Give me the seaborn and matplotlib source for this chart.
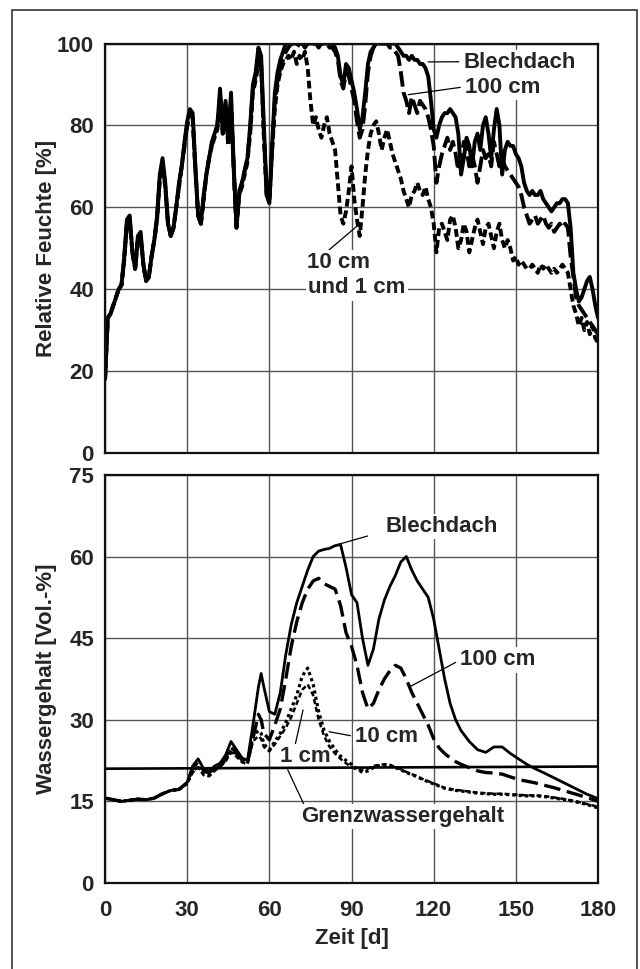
import numpy as np
import pandas as pd
import matplotlib.pyplot as plt
import seaborn as sns
from matplotlib.patches import Rectangle

# --- Relative Feuchte (oben), Tageswerte 0..180 d ---
days_top = np.arange(0, 181)

rh_blech = [18, 33, 34, 36, 38, 40, 41, 48, 57, 58,
            49, 45, 53, 54, 46, 42, 43, 48, 52, 58,
            68, 72, 66, 56, 53, 55, 60, 66, 70, 76,
            81, 84, 83, 70, 58, 56, 63, 68, 72, 76,
            78, 80, 89, 79, 86, 76, 88, 70, 55, 64,
            66, 69, 72, 80, 90, 93, 99, 97, 80, 64,
            61, 75, 88, 93, 96, 98, 100, 100, 100, 100,
            100, 100, 100, 100, 100, 100, 100, 100, 100, 100,
            100, 100, 100, 100, 99, 97, 92, 90, 95, 94,
            91, 88, 84, 79, 82, 88, 95, 98, 99, 100,
            100, 100, 100, 100, 100, 100, 100, 99, 98, 97,
            97, 96, 97, 96, 96, 95, 95, 94, 92, 86,
            79, 77, 80, 82, 83, 83, 84, 83, 82, 78,
            68, 72, 77, 75, 70, 76, 78, 74, 80, 82,
            78, 72, 79, 84, 80, 68, 74, 76, 75, 75,
            73, 72, 70, 66, 64, 63, 64, 63, 63, 64,
            62, 61, 60, 59, 60, 61, 61, 62, 62, 61,
            55, 44, 40, 37, 38, 40, 42, 43, 40, 36, 33]

rh_100 = [18, 33, 34, 36, 38, 40, 41, 47, 56, 57,
          49, 45, 52, 53, 46, 42, 43, 48, 52, 57,
          67, 71, 65, 56, 53, 55, 60, 65, 70, 75,
          80, 83, 82, 69, 58, 56, 62, 68, 72, 75,
          78, 80, 87, 78, 85, 76, 86, 69, 55, 63,
          66, 69, 72, 79, 89, 92, 97, 95, 78, 63,
          61, 74, 86, 91, 94, 96, 98, 99, 100, 100,
          99, 100, 100, 99, 100, 100, 100, 100, 99, 100,
          100, 100, 99, 99, 98, 96, 91, 89, 93, 92,
          89, 86, 81, 77, 79, 85, 93, 97, 99, 100,
          100, 100, 100, 100, 99, 99, 98, 97, 93, 88,
          86, 83, 87, 85, 83, 86, 85, 84, 82, 79,
          75, 66, 70, 73, 75, 77, 74, 76, 73, 69,
          72, 76, 74, 70, 73, 70, 66, 70, 74, 72,
          73, 70, 76, 73, 70, 72, 70, 69, 68, 67,
          66, 65, 63, 60, 58, 56, 57, 58, 56, 57,
          58, 56, 55, 56, 54, 55, 56, 55, 56, 55,
          48, 43, 38, 36, 35, 34, 33, 32, 31, 30, 29]

rh_10_1 = [18, 33, 34, 36, 38, 40, 41, 47, 56, 57,
           49, 45, 52, 53, 46, 42, 43, 48, 52, 57,
           67, 71, 65, 56, 53, 55, 60, 65, 70, 75,
           80, 83, 82, 69, 58, 56, 62, 68, 72, 75,
           77, 79, 86, 78, 84, 75, 85, 69, 55, 63,
           65, 68, 71, 78, 88, 91, 95, 94, 77, 63,
           62, 74, 84, 90, 93, 95, 96, 97, 96, 98,
           95, 97, 96, 98, 94, 86, 80, 82, 79, 77,
           80, 82, 78, 76, 74, 66, 58, 56, 59, 64,
           70, 62, 57, 53, 60, 68, 74, 78, 80, 81,
           78, 74, 77, 79, 76, 73, 71, 69, 67, 64,
           62, 60, 63, 64, 66, 64, 63, 65, 62, 60,
           56, 49, 55, 56, 54, 52, 57, 58, 55, 50,
           52, 56, 54, 49, 52, 55, 57, 54, 51, 55,
           56, 53, 50, 54, 56, 52, 50, 52, 50, 47,
           48, 46, 47, 46, 45, 45, 46, 45, 44, 46,
           45, 46, 45, 44, 45, 44, 45, 46, 45, 44,
           40, 36, 34, 31, 33, 30, 32, 29, 31, 28, 27]

# --- Wassergehalt (unten) ---
days_bot = [0, 3, 6, 9, 12, 15, 18, 21, 24, 27,
            30, 32, 34, 36, 38, 40, 42, 44, 46, 48,
            50, 52, 54, 56, 57, 58, 60, 62, 64, 66,
            68, 70, 72, 74, 76, 78, 80, 82, 84, 86,
            88, 90, 92, 94, 96, 98, 100, 102, 104, 106,
            108, 110, 112, 114, 116, 118, 120, 122, 124, 126,
            128, 130, 133, 136, 139, 142, 145, 148, 151, 154,
            157, 160, 164, 168, 172, 176, 180]

wg_blech = [15.6, 15.3, 15.0, 15.2, 15.4, 15.3, 15.6, 16.4, 17.0, 17.2,
            18.5, 21.5, 22.8, 21.0, 20.5, 21.5, 22.0, 23.5, 26.0, 24.5,
            23.0, 22.5, 29.0, 36.0, 38.5, 36.0, 31.5, 31.0, 35.0, 42.0,
            47.5, 51.5, 54.5, 57.5, 60.0, 61.0, 61.3, 61.5, 62.0, 62.2,
            58.0, 53.0, 51.5, 45.0, 40.0, 43.0, 48.5, 52.0, 54.5, 56.5,
            59.0, 60.0, 57.5, 55.5, 54.0, 52.5, 48.5, 43.0, 37.5, 33.0,
            30.0, 28.0, 26.0, 24.5, 24.0, 25.0, 25.0, 23.8, 22.8, 21.8,
            21.0, 20.3, 19.3, 18.3, 17.3, 16.3, 15.5]

wg_100 = [15.6, 15.3, 15.0, 15.2, 15.4, 15.3, 15.6, 16.4, 17.0, 17.2,
          18.4, 21.0, 22.3, 20.6, 20.2, 21.2, 21.8, 23.0, 25.0, 23.8,
          22.6, 22.2, 26.5, 31.0, 30.0, 27.5, 26.3, 29.0, 32.0, 37.5,
          43.5, 48.0, 51.5, 54.0, 55.5, 56.0, 55.0, 54.5, 54.0, 51.0,
          46.0, 43.5, 40.0, 35.0, 32.0, 33.0, 35.5, 37.5, 39.0, 40.0,
          39.5, 37.5, 35.0, 33.0, 31.0, 29.0, 26.5, 24.8, 23.8, 23.0,
          22.3, 21.8, 21.2, 20.6, 20.3, 20.2, 20.0, 19.5, 19.0, 18.7,
          18.4, 18.0, 17.5, 16.9, 16.3, 15.7, 15.0]

wg_10 = [15.6, 15.3, 15.0, 15.2, 15.4, 15.3, 15.6, 16.4, 17.0, 17.2,
         18.3, 20.5, 21.5, 20.0, 19.8, 20.8, 21.5, 22.5, 24.5, 23.5,
         22.4, 22.0, 27.0, 28.0, 27.5, 25.5, 24.5, 26.0, 27.5, 29.5,
         32.0, 34.5, 38.0, 39.5, 36.5, 31.5, 28.0, 26.0, 24.5, 23.3,
         22.5, 21.8, 21.0, 20.3, 20.6, 21.2, 21.5, 21.7, 21.6, 21.2,
         20.8, 20.3, 19.9, 19.5, 19.0, 18.6, 18.2, 17.8, 17.4, 17.2,
         17.0, 16.9, 16.7, 16.5, 16.4, 16.3, 16.3, 16.2, 16.1, 16.0,
         16.0, 15.9, 15.6, 15.3, 14.9, 14.4, 13.8]

wg_1 = [15.6, 15.3, 15.0, 15.2, 15.4, 15.3, 15.6, 16.4, 17.0, 17.2,
        18.3, 20.3, 21.3, 19.8, 19.6, 20.6, 21.3, 22.3, 24.0, 23.2,
        22.2, 21.8, 26.0, 27.0, 26.5, 25.0, 24.2, 25.5, 27.0, 28.5,
        30.5, 33.0, 35.5, 36.5, 34.5, 30.0, 27.0, 25.0, 23.8, 22.8,
        22.0, 21.3, 20.8, 20.8, 21.0, 21.5, 21.7, 21.8, 21.7, 21.3,
        20.9, 20.4, 20.0, 19.6, 19.1, 18.7, 18.3, 17.9, 17.5, 17.3,
        17.1, 17.0, 16.8, 16.6, 16.5, 16.4, 16.4, 16.3, 16.2, 16.1,
        16.1, 16.0, 15.7, 15.4, 15.0, 14.5, 14.0]

grenz_days = [0, 180]
grenz_wg = [21.0, 21.4]

sns.set_style('white')
plt.rcParams['font.family'] = ['Liberation Sans', 'DejaVu Sans']
plt.rcParams['font.weight'] = 'bold'
plt.rcParams['axes.labelweight'] = 'bold'

fig = plt.figure(figsize=(6.4, 9.69), dpi=100)
ax1 = fig.add_axes([0.1641, 0.5325, 0.7703, 0.4226])
ax2 = fig.add_axes([0.1641, 0.0888, 0.7703, 0.4211])

# Rahmen um die ganze Abbildung
fig.add_artist(Rectangle((12 / 640, -0.02), 625 / 640, 1 - 10 / 969 + 0.02,
                         transform=fig.transFigure, fill=False, lw=1.2, ec='#333333'))

# oben
sns.lineplot(x=days_top, y=rh_10_1, ax=ax1, color='k', lw=2.8, linestyle=(0, (2, 1)))
sns.lineplot(x=days_top, y=rh_100, ax=ax1, color='k', lw=2.8, linestyle=(0, (4, 1.4)))
sns.lineplot(x=days_top, y=rh_blech, ax=ax1, color='k', lw=2.8)

# unten
sns.lineplot(x=grenz_days, y=grenz_wg, ax=ax2, color='k', lw=1.9)
sns.lineplot(x=days_bot, y=wg_1, ax=ax2, color='k', lw=1.8, linestyle=(0, (2, 1.2)))
sns.lineplot(x=days_bot, y=wg_10, ax=ax2, color='k', lw=2.3, linestyle=(0, (1, 1)))
sns.lineplot(x=days_bot, y=wg_100, ax=ax2, color='k', lw=2.4, linestyle=(0, (5, 2)))
sns.lineplot(x=days_bot, y=wg_blech, ax=ax2, color='k', lw=2.0)


def style_axes(ax, ymax, ystep):
    ax.set_xlim(0, 180)
    ax.set_ylim(0, ymax)
    ax.set_xticks(range(0, 181, 30))
    ax.set_yticks(range(0, ymax + 1, ystep))
    ax.grid(True, color='#555555', lw=1.0)
    ax.set_axisbelow(True)
    for s in ax.spines.values():
        s.set_visible(True)
        s.set_color('#111111')
        s.set_linewidth(1.6)
    ax.tick_params(length=0, labelsize=16, pad=8)
    ax.tick_params(axis='x', pad=12)


style_axes(ax1, 100, 20)
style_axes(ax2, 75, 15)
ax1.tick_params(labelbottom=False)

ax1.set_ylabel('Relative Feuchte [%]', fontsize=16, fontweight='bold')
ax1.yaxis.set_label_coords(-0.098, 0.5)
ax2.set_ylabel('Wassergehalt [Vol.-%]', fontsize=16, fontweight='bold')
ax2.yaxis.set_label_coords(-0.098, 0.5)
ax2.set_xlabel('Zeit [d]', fontsize=16, fontweight='bold')
ax2.xaxis.set_label_coords(0.5, -0.11)

box = dict(boxstyle='square,pad=0.1', fc='white', ec='none')
txt = dict(fontsize=16, fontweight='bold', bbox=box, zorder=1.5)


def leader(rel, shrink=2):
    return dict(arrowstyle='-', lw=0.9, color='k', relpos=rel, shrinkA=shrink, shrinkB=0)


ax1.annotate('Blechdach', xy=(118, 95.5), xytext=(131, 95.3), ha='left', va='center',
             arrowprops=leader((0, 0.55)), **txt)
ax1.annotate('100 cm', xy=(110.7, 87.5), xytext=(131.5, 89.2), ha='left', va='center',
             arrowprops=leader((0, 0.55)), **txt)
ax1.annotate('10 cm', xy=(92.5, 55.7), xytext=(85.3, 46.4), ha='center', va='center',
             arrowprops=leader((0.3, 1.0), 0), **txt)
ax1.text(91.9, 40.3, 'und 1 cm', ha='center', va='center', **txt)

ax2.annotate('Blechdach', xy=(85, 62.2), xytext=(123, 65.5), ha='center', va='center',
             arrowprops=leader((0, 0.3), 12), **txt)
ax2.annotate('100 cm', xy=(111.4, 36.1), xytext=(143.5, 41), ha='center', va='center',
             arrowprops=leader((0, 0.5)), **txt)
ax2.annotate('10 cm', xy=(81.8, 27.8), xytext=(102.9, 26.9), ha='center', va='center',
             arrowprops=leader((0, 0.5)), **txt)
ax2.annotate('1 cm', xy=(72.3, 31.8), xytext=(73, 23.2), ha='center', va='center',
             arrowprops=leader((0.3, 1.0), 0), **txt)
ax2.annotate('Grenzwassergehalt', xy=(66.7, 20.8), xytext=(108.5, 12.2), ha='center', va='center',
             arrowprops=leader((0.02, 1.0), 0), **txt)

fig.savefig('out.png', dpi=100)
